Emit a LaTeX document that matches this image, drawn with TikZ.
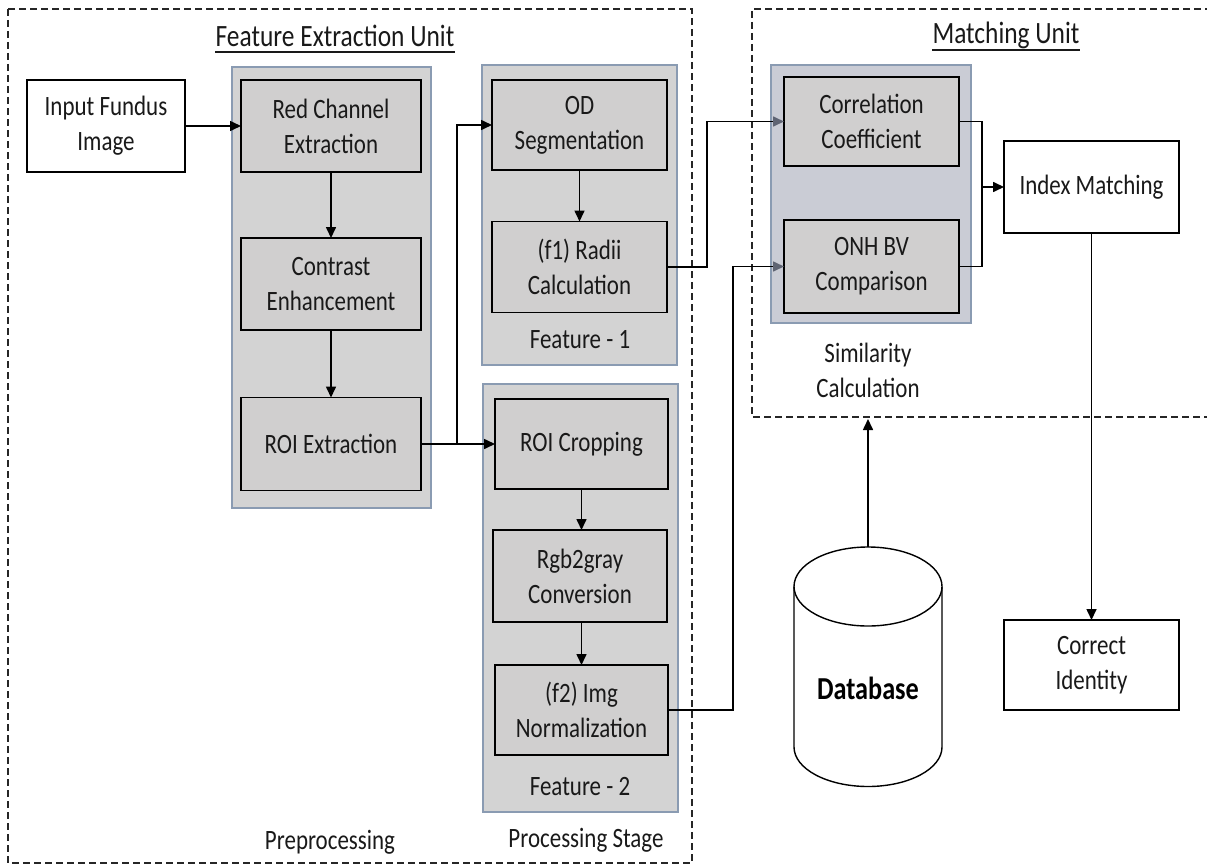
\documentclass[tikz,border=0pt]{standalone}
\usepackage{fontspec}
\setmainfont{Carlito}[FakeStretch=0.82]
\usetikzlibrary{arrows.meta,calc}

\definecolor{boxfill}{RGB}{208,207,207}
\definecolor{panelfill}{RGB}{211,211,211}
\definecolor{simfill}{RGB}{202,204,213}
\definecolor{panelline}{RGB}{138,155,178}
\definecolor{tipgray}{RGB}{95,100,115}
\definecolor{ink}{RGB}{25,25,25}

\tikzset{
  stagebox/.style={draw=black, line width=1.6pt, fill=boxfill, align=center,
    inner sep=0pt, outer sep=0pt, text=ink, font=\fontsize{28}{35}\selectfont},
  plainbox/.style={stagebox, fill=white},
  panel/.style={draw=panelline, line width=1.6pt, fill=panelfill},
  frame/.style={draw=black!85, line width=1.4pt, dash pattern=on 7pt off 4pt},
  caption/.style={align=center, inner sep=0pt, text=ink, font=\fontsize{28}{35}\selectfont},
  heading/.style={inner sep=0pt, text=ink, font=\fontsize{31}{38}\selectfont},
  flow/.style={line width=1.6pt, draw=black, -{Triangle[length=11pt,width=10pt]}},
  flowgray/.style={line width=1.6pt, draw=black, -{Triangle[length=11pt,width=10pt,color=tipgray]}},
  wire/.style={line width=1.6pt, draw=black}
}

\begin{document}
\begin{tikzpicture}[x=1pt,y=-1pt]
\useasboundingbox (0,0) rectangle (1207,867);

% unit frames
\draw[frame] (8,9) rectangle (692,863);
\draw[frame] (1212,9) -- (752,9) -- (752,417) -- (1212,417);

% headings
\node[heading, anchor=base] (fetitle) at (335,47) {Feature Extraction Unit};
\draw[line width=1.4pt, ink] ([yshift=-5pt]fetitle.base west) -- ([yshift=-5pt]fetitle.base east);
\node[heading, anchor=base] (mutitle) at (1006,44) {Matching Unit};
\draw[line width=1.4pt, ink] ([yshift=-6pt]mutitle.base west) -- ([yshift=-6pt]mutitle.base east);

% stage panels
\draw[panel] (232,67) rectangle (431,508);
\draw[panel] (482,65) rectangle (677,365);
\draw[panel] (483,384) rectangle (678,812);
\draw[panel, fill=simfill] (771,65) rectangle (971,323);

% input
\node[plainbox, minimum width=158pt, minimum height=92pt] (inp) at (106,126) {Input Fundus\\Image};

% preprocessing
\node[stagebox, minimum width=180pt, minimum height=92pt] (red) at (331,126) {Red Channel\\Extraction};
\node[stagebox, minimum width=180pt, minimum height=92pt] (con) at (331,284) {Contrast\\Enhancement};
\node[stagebox, minimum width=180pt, minimum height=93pt] (roi) at (331,444) {ROI Extraction};

% feature 1
\node[stagebox, minimum width=175pt, minimum height=90pt] (od) at (579.5,125) {OD\\Segmentation};
\node[stagebox, minimum width=175pt, minimum height=91pt] (rad) at (579.5,267) {(f1) Radii\\Calculation};
\node[caption] (f1lab) at (580,340) {Feature - 1};

% feature 2
\node[stagebox, minimum width=173pt, minimum height=90pt] (crop) at (581.5,444) {ROI Cropping};
\node[stagebox, minimum width=174pt, minimum height=92pt] (rgb) at (580,576) {Rgb2gray\\Conversion};
\node[stagebox, minimum width=173pt, minimum height=90pt] (norm) at (581.5,710) {(f2) Img\\Normalization};
\node[caption] (f2lab) at (580,787) {Feature - 2};

\node[caption] (prelab) at (330,842) {Preprocessing};
\node[caption] (proclab) at (586,840) {Processing Stage};

% similarity
\node[stagebox, minimum width=175pt, minimum height=89pt] (corr) at (871.5,121.5) {Correlation\\Coefficient};
\node[stagebox, minimum width=175pt, minimum height=93pt] (onh) at (871.5,266.5) {ONH BV\\Comparison};
\node[caption] (simlab) at (868,370) {Similarity\\Calculation};

% matching
\node[plainbox, minimum width=175pt, minimum height=92pt] (idx) at (1091.5,187) {Index Matching};
\node[plainbox, minimum width=175pt, minimum height=90pt] (cid) at (1091.5,665) {Correct\\Identity};

% database cylinder
\draw[line width=1.4pt, fill=white] (794,586.5) -- (794,747)
  arc[start angle=180, end angle=360, x radius=74pt, y radius=39.5pt]
  -- (942,586.5);
\draw[line width=1.4pt, fill=white] (868,586.5) ellipse[x radius=74pt, y radius=39.5pt];
\node[inner sep=0pt, minimum width=148pt, minimum height=239pt] (db) at (868,666.5) {};
\node[text=black, font=\fontsize{32}{38}\selectfont\bfseries] (dbtext) at (868,688) {Database};

% junction points
\coordinate (mub) at (868,419);
\coordinate (merge) at (982,187);

% connectors
\draw[flow] (inp.east) -- (red.west);
\draw[flow] (red.south) -- (con.north);
\draw[flow] (con.south) -- (roi.north);
\draw[flow] (roi.east) -- (crop.west);
\draw[flow] (roi.east) -- ++(36,0) |- (od.west);
\draw[flow] (od.south) -- (rad.north);
\draw[flow] (crop.south) -- (rgb.north -| crop.south);
\draw[flow] (rgb.south -| crop.south) -- (norm.north -| crop.south);
\draw[flowgray] (rad.east) -- ++(40,0) |- (corr.west);
\draw[flowgray] (norm.east) -- ++(65,0) |- (onh.west);
\draw[wire] (corr.east) -| (merge);
\draw[wire] (onh.east) -| (merge);
\draw[flow] (merge) -- (idx.west);
\draw[flow] (idx.south) -- (cid.north);
\draw[flow] (db.north) -- (mub);
\end{tikzpicture}
\end{document}
